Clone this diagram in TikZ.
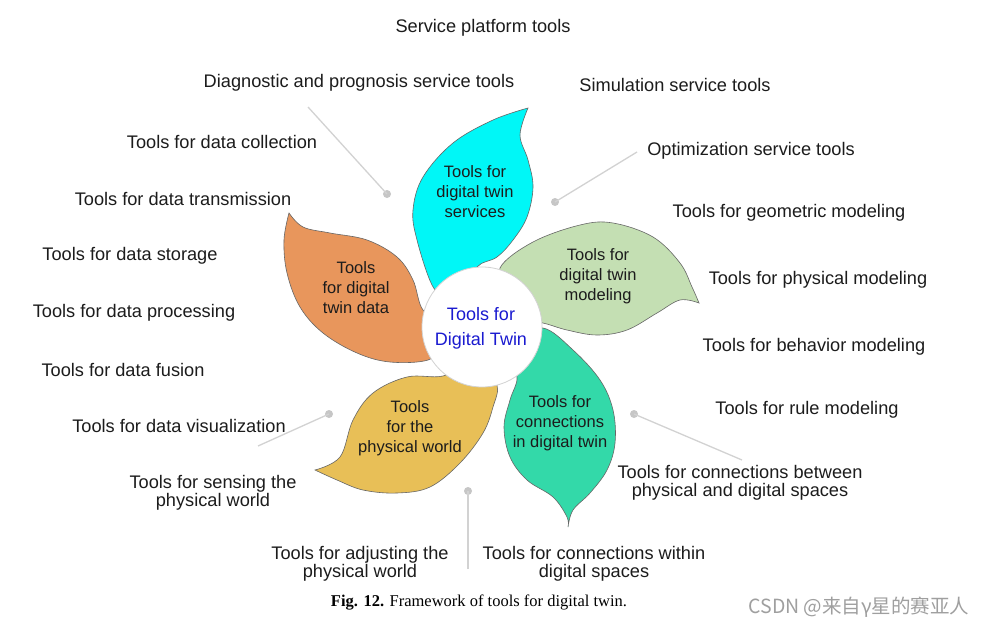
\documentclass[tikz,border=0pt]{standalone}
\usepackage{fontspec}
\setmainfont{Liberation Sans}
\newfontfamily\capfont{Liberation Serif}
\newfontfamily\cjkfont{Noto Sans CJK SC}
\definecolor{pcyan}{HTML}{00F7F7}
\definecolor{pgreen}{HTML}{C4DFB3}
\definecolor{pteal}{HTML}{33D9A9}
\definecolor{pyellow}{HTML}{E8BF57}
\definecolor{porange}{HTML}{E8965C}
\definecolor{ctrblue}{HTML}{1A1AD0}
\definecolor{txt}{HTML}{1C1C1C}
\tikzset{
  lbl/.style={font=\fontsize{18.2}{18.5}\selectfont, text=txt, align=center, inner sep=0pt, yshift=-2pt},
  ptxt/.style={font=\fontsize{16.5}{20}\selectfont, text=txt, align=center, inner sep=0pt, yshift=-1pt},
  conn/.style={draw=gray!35, line width=1.3pt},
  dotend/.style={circle, fill=gray!45, minimum size=8pt, inner sep=0pt},
  petal/.style={draw=black!60, line width=0.6pt},
}
\begin{document}
\begin{tikzpicture}[x=1pt,y=-1pt]
\useasboundingbox (0,0) rectangle (987,629);
\fill[white] (0,0) rectangle (987,629);

% petals
\path[petal, fill=porange] plot[smooth,tension=0.6] coordinates {(289,213) (303,227) (330,233) (367,240) (397,257) (413,280) (423,310) (445,322)}
  -- plot[smooth,tension=0.6] coordinates {(445,345) (428,360) (390,362) (357,353) (323,333) (300,307) (287,273) (284,240) (289,213)} -- cycle;
\path[petal, fill=pyellow] plot[smooth,tension=0.6] coordinates {(470,362) (443,376) (407,377) (373,393) (353,420) (340,457) (315,470)}
  -- plot[smooth,tension=0.6] coordinates {(315,470) (337,480) (363,490) (397,493) (430,487) (460,463) (483,433) (493,407) (497,385) (480,368)} -- cycle;
\path[petal, fill=pteal] plot[smooth,tension=0.6] coordinates {(515,340) (543,328) (573,350) (600,380) (613,410) (615,443) (607,470) (590,493) (573,510) (568,527)}
  -- plot[smooth,tension=0.6] coordinates {(568,527) (567,517) (553,497) (527,480) (510,457) (504,427) (510,400) (517,377) (505,360)} -- cycle;
\path[petal, fill=pgreen] plot[smooth,tension=0.6] coordinates {(510,292) (500,268) (533,242) (580,225) (613,223) (653,237) (680,263) (692,287) (699,303)}
  -- plot[smooth,tension=0.6] coordinates {(699,303) (680,300) (657,313) (627,330) (597,335) (567,330) (543,323) (515,318)} -- cycle;
\path[petal, fill=pcyan] plot[smooth,tension=0.6] coordinates {(448,302) (432,285) (417,240) (413,210) (423,177) (453,143) (493,120) (528,108)}
  -- plot[smooth,tension=0.6] coordinates {(528,108) (520,135) (528,160) (533,187) (527,217) (513,240) (497,257) (477,267) (470,292)} -- cycle;

% centre
\node[circle, draw=gray!35, fill=white, line width=0.8pt, minimum size=120pt, inner sep=0pt] (ctr) at (482,327) {};
\node[font=\fontsize{18}{25}\selectfont, text=ctrblue, align=center, inner sep=0pt] (ctrt) at (481,328) {Tools for\\Digital Twin};

% petal texts
\node[ptxt] (tserv) at (475,191) {Tools for\\digital twin\\services};
\node[ptxt] (tmod) at (598,275) {Tools for\\digital twin\\modeling};
\node[ptxt] (tdata) at (356,287) {Tools\\for digital\\twin data};
\node[ptxt] (tphys) at (410,427) {Tools\\for the\\physical world};
\node[ptxt] (tconn) at (560,422) {Tools for\\connections\\in digital twin};

% outer labels
\node[lbl] (l1) at (483,26) {Service platform tools};
\node[lbl] (l2) at (359,81) {Diagnostic and prognosis service tools};
\node[lbl] (l3) at (675,83) {Simulation service tools};
\node[lbl] (l4) at (222,140) {Tools for data collection};
\node[lbl] (l5) at (751,149) {Optimization service tools};
\node[lbl] (l6) at (183,197) {Tools for data transmission};
\node[lbl] (l7) at (789,211) {Tools for geometric modeling};
\node[lbl] (l8) at (130,254) {Tools for data storage};
\node[lbl] (l9) at (818,278) {Tools for physical modeling};
\node[lbl] (l10) at (134,311) {Tools for data processing};
\node[lbl] (l11) at (814,345) {Tools for behavior modeling};
\node[lbl] (l12) at (123,368) {Tools for data fusion};
\node[lbl] (l13) at (807,408) {Tools for rule modeling};
\node[lbl] (l14) at (179,424) {Tools for data visualization};
\node[lbl] (l15) at (213,491) {Tools for sensing the\\physical world};
\node[lbl] (l16) at (740,481) {Tools for connections between\\physical and digital spaces};
\node[lbl] (l17) at (360,562) {Tools for adjusting the\\physical world};
\node[lbl] (l18) at (594,562) {Tools for connections within\\digital spaces};

% connectors
\node[dotend] (d1) at (387,194) {};
\node[dotend] (d2) at (555,202) {};
\node[dotend] (d3) at (329,414) {};
\node[dotend] (d4) at (468,491) {};
\node[dotend] (d5) at (634,414) {};
\coordinate (e1) at (308,107);
\coordinate (e2) at (637,152);
\coordinate (e3) at (258,446);
\coordinate (e4) at (468,569);
\coordinate (e5) at (742,460);
\draw[conn] (e1) -- (d1.center);
\draw[conn] (e2) -- (d2.center);
\draw[conn] (e3) -- (d3.center);
\draw[conn] (e4) -- (d4.center);
\draw[conn] (e5) -- (d5.center);

% caption and watermark
\node[font=\capfont\fontsize{16.5}{18}\selectfont, inner sep=0pt] (cap) at (479,603) {\textbf{Fig. 12.} Framework of tools for digital twin.};
\node[font=\cjkfont\fontsize{19.5}{20}\selectfont, text=gray!75, inner sep=0pt] (wm) at (859,607) {CSDN @来自γ星的赛亚人};
\end{tikzpicture}
\end{document}
